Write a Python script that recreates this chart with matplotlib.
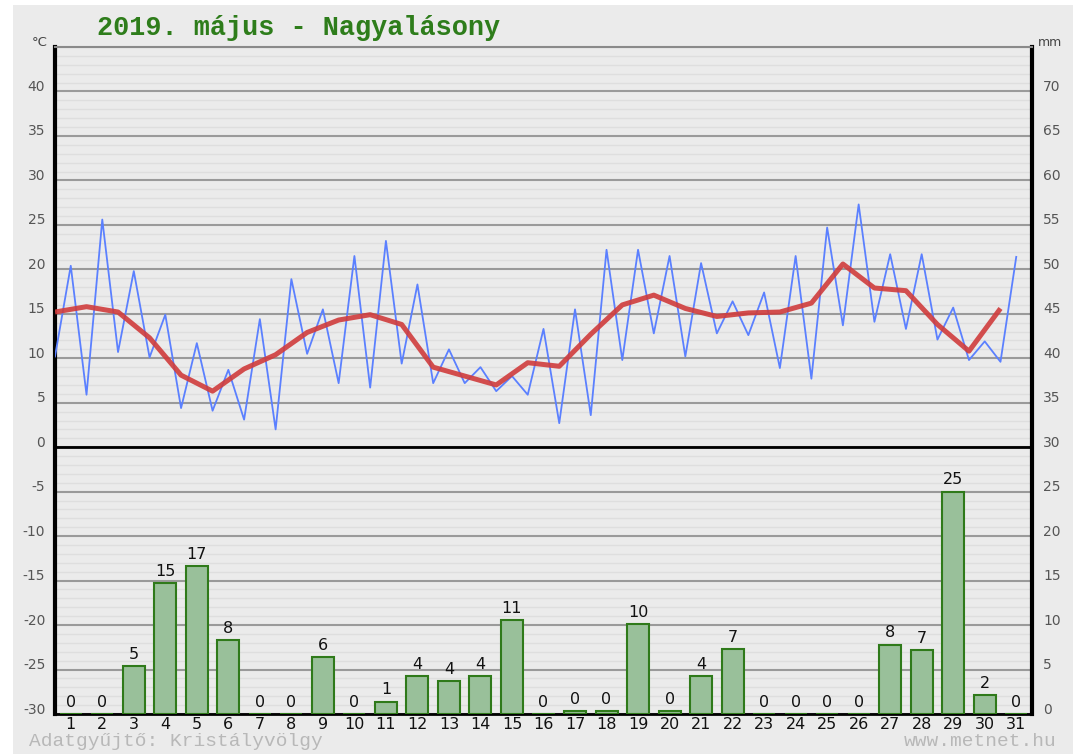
import matplotlib.pyplot as plt
import matplotlib.transforms as mtransforms
import numpy as np
from matplotlib.patches import Rectangle


TITLE = '2019. május - Nagyalásony'
days = list(range(1, 32))

# min / max pairs, two points per day (°C)
temp_minmax = [10.2, 20.4, 5.9, 25.6, 10.7, 19.8, 10.1, 14.9, 4.4, 11.7,
               4.1, 8.7, 3.1, 14.4, 2.0, 18.9, 10.5, 15.5, 7.2, 21.5,
               6.7, 23.2, 9.4, 18.3, 7.2, 11.0, 7.2, 9.0, 6.3, 8.0,
               5.9, 13.3, 2.7, 15.5, 3.6, 22.2, 9.8, 22.2, 12.8, 21.5,
               10.2, 20.7, 12.8, 16.4, 12.6, 17.4, 8.9, 21.5, 7.7, 24.7,
               13.7, 27.3, 14.1, 21.7, 13.3, 21.7, 12.1, 15.7, 9.8, 11.9,
               9.6, 21.4]

# daily mean (°C)
temp_mean = [15.2, 15.8, 15.2, 12.3, 8.1, 6.3, 8.8, 10.4, 12.9, 14.3,
             14.9, 13.8, 9.0, 8.0, 7.0, 9.5, 9.1, 12.7, 16.0, 17.1,
             15.6, 14.7, 15.1, 15.2, 16.2, 20.6, 17.9, 17.6, 13.8, 10.8,
             15.6]

# precipitation (mm)
precip = [0, 0, 5.4, 14.7, 16.6, 8.3, 0, 0, 6.4, 0,
          1.4, 4.3, 3.7, 4.3, 10.6, 0, 0.3, 0.3, 10.1, 0.3,
          4.3, 7.3, 0, 0, 0, 0, 7.8, 7.2, 25.0, 2.1, 0]

plt.rcParams['axes.unicode_minus'] = False

BG = '#ebebeb'
W, H = 1080, 754

fig = plt.figure(figsize=(W / 100, H / 100), dpi=100)
fig.patch.set_facecolor('white')
fig.patches.append(Rectangle((13 / W, 0), (1073 - 13) / W, 1 - 5 / H,
                             transform=fig.transFigure, facecolor=BG,
                             edgecolor='none', zorder=-10))

ax = fig.add_axes([55 / W, 40 / H, 977 / W, 667 / H])
ax.set_facecolor(BG)
ax.set_xlim(0.5, 31.5)
ax.set_ylim(-30, 45)

# grid
ax.set_yticks(np.arange(-30, 45, 5))
ax.set_yticks(np.arange(-30, 46, 1), minor=True)
ax.grid(which='minor', axis='y', color='#dedede', lw=1.0, zorder=0)
ax.grid(which='major', axis='y', color='#9a9a9a', lw=1.5, zorder=0)
ax.grid(which='both', axis='x', visible=False)
ax.axhline(0, color='black', lw=2, zorder=1)
ax.set_axisbelow(True)

ax.spines['top'].set_color('#8a8a8a')
ax.spines['top'].set_linewidth(1.5)
ax.spines['left'].set_linewidth(3)
ax.spines['right'].set_linewidth(3)
ax.spines['bottom'].set_linewidth(2)

# temperature lines
x_minmax = 0.5 + 0.5 * np.arange(len(temp_minmax))
x_mean = np.array(days) - 0.5
ax.plot(x_minmax, temp_minmax, color='#5b80ff', lw=1.3, zorder=3)
ax.plot(x_mean, temp_mean, color='#d03c3c', lw=3.6, alpha=0.9, zorder=4,
        solid_capstyle='butt')

# ticks
ax.tick_params(axis='y', which='both', length=0, pad=7, labelsize=10,
               labelcolor='#555555')
ax.set_xticks(days)
ax.set_xticklabels([str(d) for d in days])
ax.tick_params(axis='x', length=0, pad=2, labelsize=11.5, labelcolor='#111111')

up = mtransforms.ScaledTranslation(0, 6 / 100, fig.dpi_scale_trans)
for lab in ax.get_yticklabels():
    lab.set_transform(lab.get_transform() + up)

# precipitation on the right axis
ax2 = ax.twinx()
ax2.set_ylim(0, 75)
ax2.set_yticks(np.arange(0, 75, 5))
ax2.tick_params(axis='y', length=0, pad=8, labelsize=10, labelcolor='#555555')
for lab in ax2.get_yticklabels():
    lab.set_transform(lab.get_transform() + up)
for s in ax2.spines.values():
    s.set_visible(False)

ax2.bar(days, precip, width=0.7, color='#99c09a', edgecolor='#2f7a1a',
        lw=1.5, zorder=3)
for d, v in zip(days, precip):
    ax2.annotate(f'{v:.0f}', (d, v), xytext=(0, 3), textcoords='offset points',
                 ha='center', va='bottom', fontsize=11.5, color='#111111')

# texts
fig.text(40 / W, 1 - 42 / H, '°C', fontsize=9.5, color='#444444',
         ha='center', va='center')
fig.text(1050 / W, 1 - 42 / H, 'mm', fontsize=9, color='#444444',
         ha='center', va='center')
fig.text(97 / W, 1 - 28 / H, TITLE, family='Liberation Mono',
         weight='bold', fontsize=19.4, color='#2e7d1b', va='center')
fig.text(29 / W, 1 - 742 / H, 'Adatgyűjtő: Kristályvölgy',
         family='Liberation Mono', fontsize=14, color='#b8b8b8', va='center')
fig.text(1057 / W, 1 - 742 / H, 'www.metnet.hu', family='Liberation Mono',
         fontsize=14, color='#b8b8b8', va='center', ha='right')

fig.savefig('out.png', dpi=100, facecolor=fig.get_facecolor())
